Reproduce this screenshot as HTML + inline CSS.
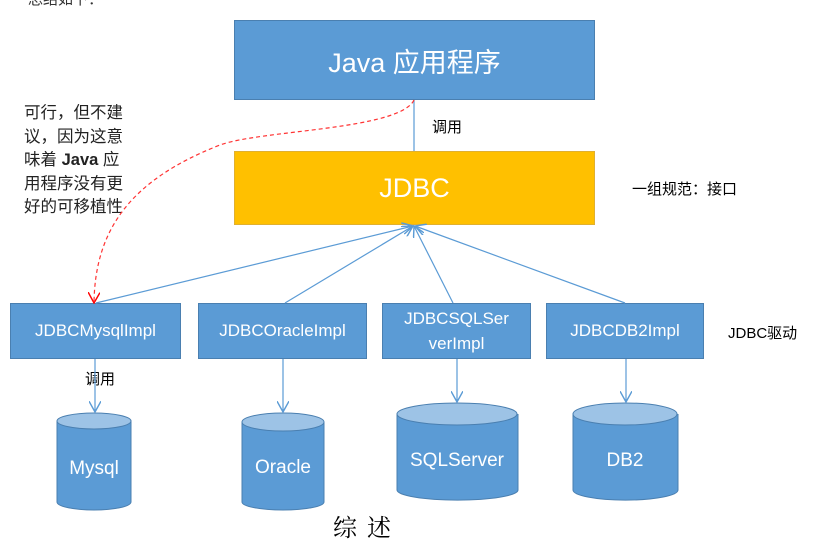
<!DOCTYPE html><html><head><meta charset="utf-8"><style>
body{margin:0;width:830px;height:546px;background:#fff;position:relative;overflow:hidden;font-family:"Liberation Sans","Noto Sans CJK SC",sans-serif}
.b{position:absolute;background:#5b9bd5;border:1px solid #4a7fb0;color:#fff;display:flex;align-items:center;justify-content:center;text-align:center;box-sizing:border-box}
.t{position:absolute;color:#000}
</style></head><body>
<div class="t" style="left:28px;top:-12px;font-size:15px;color:#333">总结如下：</div>
<div class="b" style="left:234px;top:20px;width:361px;height:80px;font-size:27px">Java 应用程序</div>
<div class="b" style="left:234px;top:151px;width:361px;height:74px;font-size:27px;background:#ffc000;border-color:#e0b030">JDBC</div>
<div class="b" style="left:10px;top:303px;width:171px;height:56px;font-size:17px">JDBCMysqlImpl</div>
<div class="b" style="left:198px;top:303px;width:169px;height:56px;font-size:17px">JDBCOracleImpl</div>
<div class="b" style="left:382px;top:303px;width:149px;height:56px;font-size:17px;line-height:25px">JDBCSQLSer<br>verImpl</div>
<div class="b" style="left:546px;top:303px;width:158px;height:56px;font-size:17px">JDBCDB2Impl</div>
<div class="t" style="left:432px;top:116px;font-size:15px">调用</div>
<div class="t" style="left:632px;top:178px;font-size:15px">一组规范：接口</div>
<div class="t" style="left:728px;top:322px;font-size:15px">JDBC驱动</div>
<div class="t" style="left:85px;top:368px;font-size:15px">调用</div>
<div class="t" style="left:24px;top:102px;font-size:16.5px;line-height:23.5px;color:#222;white-space:nowrap">可行，但不建<br>议，因为这意<br>味着 <b>Java</b> 应<br>用程序没有更<br>好的可移植性</div>
<div class="t" style="left:333px;top:508px;font-size:24px;font-family:'Noto Serif CJK SC',serif;letter-spacing:10px">综述</div>
<svg width="830" height="546" style="position:absolute;left:0;top:0">
<defs><marker id="a" markerWidth="10" markerHeight="10" refX="9" refY="5" orient="auto"><path d="M0,0L9,5L0,10" fill="none" stroke="#5b9bd5" stroke-width="1.2"/></marker>
<marker id="r" markerWidth="10" markerHeight="10" refX="9" refY="5" orient="auto"><path d="M0,0L9,5L0,10" fill="none" stroke="#f00" stroke-width="1.2"/></marker></defs>
<g stroke="#5b9bd5" stroke-width="1.2" fill="none">
<line x1="414" y1="100" x2="414" y2="151"/>
<line x1="96" y1="303" x2="413" y2="226" marker-end="url(#a)"/>
<line x1="285" y1="303" x2="413" y2="226" marker-end="url(#a)"/>
<line x1="453" y1="303" x2="414" y2="226" marker-end="url(#a)"/>
<line x1="625" y1="303" x2="415" y2="226" marker-end="url(#a)"/>
</g>
<path d="M414,100 C400,130 260,130 220,145 C130,180 95,230 94,303" fill="none" stroke="#f33" stroke-width="1.2" stroke-dasharray="4,3" marker-end="url(#r)"/>
<g stroke="#4a7fb0" stroke-width="1">
<path d="M57,421 V502 A37,8 0 0 0 131,502 V421" fill="#5b9bd5"/><ellipse cx="94" cy="421" rx="37" ry="8" fill="#9dc3e6"/>
<path d="M242,422 V502 A41,8 0 0 0 324,502 V422" fill="#5b9bd5"/><ellipse cx="283" cy="422" rx="41" ry="9" fill="#9dc3e6"/>
<path d="M397,414 V490 A60,10 0 0 0 518,490 V414" fill="#5b9bd5"/><ellipse cx="457" cy="414" rx="60" ry="11" fill="#9dc3e6"/>
<path d="M573,414 V490 A52,10 0 0 0 678,490 V414" fill="#5b9bd5"/><ellipse cx="625" cy="414" rx="52" ry="11" fill="#9dc3e6"/>
</g>
<g stroke="#5b9bd5" stroke-width="1.2" fill="none">
<line x1="95" y1="359" x2="95" y2="412" marker-end="url(#a)"/>
<line x1="283" y1="359" x2="283" y2="412" marker-end="url(#a)"/>
<line x1="457" y1="359" x2="457" y2="402" marker-end="url(#a)"/>
<line x1="626" y1="359" x2="626" y2="402" marker-end="url(#a)"/>
</g>
<g fill="#fff" font-size="19" text-anchor="middle" font-family="Liberation Sans,sans-serif">
<text x="94" y="474">Mysql</text><text x="283" y="473">Oracle</text><text x="457" y="466">SQLServer</text><text x="625" y="466">DB2</text>
</g>
</svg>
</body></html>
